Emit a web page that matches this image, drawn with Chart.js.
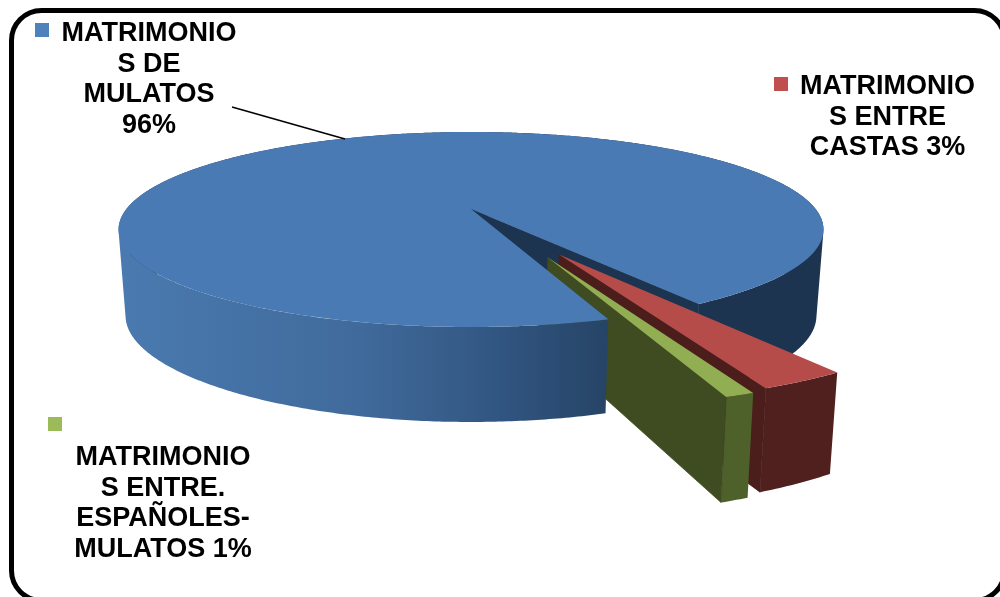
<!DOCTYPE html>
<html>
<head>
<meta charset="utf-8">
<title>Matrimonios</title>
<style>
  html, body { margin: 0; padding: 0; background: #fff; overflow: hidden; }
  canvas { display: block; }
</style>
<script src="https://cdn.jsdelivr.net/npm/chart.js@4"></script>
</head>
<body>
<canvas id="matrimonios" width="1000" height="597"></canvas>
<script>
const categories = ['MATRIMONIOS DE MULATOS', 'MATRIMONIOS ENTRE CASTAS', 'MATRIMONIOS ENTRE. ESPAÑOLES-MULATOS'];
const values = [96, 3, 1];
const labelLines = [
  ['MATRIMONIO', 'S DE', 'MULATOS', `${values[0]}%`],
  ['MATRIMONIO', 'S ENTRE', `CASTAS ${values[1]}%`],
  ['MATRIMONIO', 'S ENTRE.', 'ESPAÑOLES-', `MULATOS ${values[2]}%`]
];

const keyColors = ['#4f81bd', '#c0504d', '#9bbb59'];
const topColors = ['#4a7ab4', '#b54c49', '#91ae53'];
const wallColors = ['#1d3451', '#4f201e', '#4e612b'];
const faceColors = ['#1d3451', '#4b1d1b', '#3f4b20'];

// pulled-out slices: distance in radii, and a small turn off the slice's middle
const explode = [0, 0.5, 0.51];
const explodeTurn = [0, 0, -0.049];

// label placement: centre x, first baseline, legend key x and y
const labelSpots = [
  { x: 149, y: 41, keyX: 35, keyY: 23 },
  { x: 887.5, y: 94, keyX: 774, keyY: 77 },
  { x: 163, y: 465, keyX: 48, keyY: 417 }
];

// perspective of the upper and lower disc
const cam = {
  x0: 471, dx: 344.6, tilt: -0.2103, shrink: 0.02,
  topY: 209, topA: 49.24,
  botY: 294.3, botA: 26.4, botTilt: -0.24
};

function project(u, v, h) {
  const yTop = (cam.topY + cam.topA * v) / (1 + cam.tilt * v);
  const yBot = (cam.botY + cam.botA * v) / (1 + cam.botTilt * v);
  return {
    x: cam.x0 + cam.dx * u / (1 + cam.tilt * v) * (1 - cam.shrink * h),
    y: yTop + (yBot - yTop) * h
  };
}

function rimPoints(a0, a1, ox, oy, h) {
  const steps = Math.max(2, Math.ceil(Math.abs(a1 - a0) / 0.01));
  const pts = [];
  for (let i = 0; i <= steps; i++) {
    const a = a0 + (a1 - a0) * i / steps;
    pts.push(project(ox + Math.cos(a), oy + Math.sin(a), h));
  }
  return pts;
}

function fillPoly(ctx, pts, fill) {
  ctx.beginPath();
  pts.forEach((p, i) => (i ? ctx.lineTo(p.x, p.y) : ctx.moveTo(p.x, p.y)));
  ctx.closePath();
  ctx.fillStyle = fill;
  ctx.fill();
}

function signedArea(pts) {
  let sum = 0;
  pts.forEach((p, i) => {
    const q = pts[(i + 1) % pts.length];
    sum += p.x * q.y - q.x * p.y;
  });
  return sum;
}

// the wall folds over at the silhouette, so every strip is wound the same way
// and all of them go into one path: nonzero fill then gives a clean union
function wall(ctx, a0, a1, ox, oy, fill) {
  const upper = rimPoints(a0, a1, ox, oy, 0);
  const lower = rimPoints(a0, a1, ox, oy, 1);
  ctx.beginPath();
  for (let i = 1; i < upper.length; i++) {
    let quad = [upper[i - 1], upper[i], lower[i], lower[i - 1]];
    if (signedArea(quad) < 0) quad = quad.reverse();
    quad.forEach((p, j) => (j ? ctx.lineTo(p.x, p.y) : ctx.moveTo(p.x, p.y)));
    ctx.closePath();
  }
  ctx.fillStyle = fill;
  ctx.fill('nonzero');
}

function cutFace(ctx, a, ox, oy, fill) {
  fillPoly(ctx, [
    project(ox, oy, 0),
    project(ox + Math.cos(a), oy + Math.sin(a), 0),
    project(ox + Math.cos(a), oy + Math.sin(a), 1),
    project(ox, oy, 1)
  ], fill);
  // closes the seam against the neighbouring wall
  ctx.strokeStyle = fill;
  ctx.lineWidth = 0.8;
  ctx.stroke();
}

function topFace(ctx, a0, a1, ox, oy, fill) {
  fillPoly(ctx, [project(ox, oy, 0)].concat(rimPoints(a0, a1, ox, oy, 0)), fill);
}

const pie3d = {
  id: 'pie3d',
  beforeDraw(chart) {
    const ctx = chart.ctx;
    ctx.save();
    ctx.fillStyle = '#fff';
    ctx.fillRect(0, 0, chart.width, chart.height);
    ctx.beginPath();
    ctx.roundRect(11.5, 10.5, 993, 590, 30);
    ctx.lineWidth = 5;
    ctx.strokeStyle = '#000';
    ctx.stroke();
    ctx.restore();
  },
  // the library's flat arcs are replaced by their projected solids
  beforeDatasetDraw(chart) {
    const ctx = chart.ctx;
    const arcs = chart.getDatasetMeta(0).data;
    const big = arcs[0];
    ctx.save();

    // back of the big slice first, the pulled-out ones over it
    wall(ctx, Math.PI, big.endAngle, 0, 0, wallColors[0]);
    cutFace(ctx, big.endAngle, 0, 0, faceColors[0]);

    arcs.slice(1).forEach((arc, k) => {
      const i = k + 1;
      const mid = (arc.startAngle + arc.endAngle) / 2 + explodeTurn[i];
      const ox = explode[i] * Math.cos(mid);
      const oy = explode[i] * Math.sin(mid);
      wall(ctx, arc.startAngle, arc.endAngle, ox, oy, wallColors[i]);
      cutFace(ctx, arc.endAngle, ox, oy, faceColors[i]);
      topFace(ctx, arc.startAngle, arc.endAngle, ox, oy, topColors[i]);
    });

    // front wall and top of the big slice cover the rest
    const shade = ctx.createLinearGradient(117, 0, 607, 0);
    shade.addColorStop(0, '#4a7ab0');
    shade.addColorStop(0.5, '#406a9b');
    shade.addColorStop(0.8, '#30547f');
    shade.addColorStop(1, '#264466');
    wall(ctx, big.startAngle, Math.PI, 0, 0, shade);
    topFace(ctx, big.startAngle, big.endAngle, 0, 0, topColors[0]);

    ctx.restore();
    return false;
  },
  afterDraw(chart) {
    const ctx = chart.ctx;
    ctx.save();
    // leader line of the big slice
    ctx.beginPath();
    ctx.moveTo(232, 107);
    ctx.lineTo(345, 139);
    ctx.lineWidth = 1.5;
    ctx.strokeStyle = '#000';
    ctx.stroke();

    ctx.font = 'bold 27px "Liberation Sans", Arial, sans-serif';
    ctx.textAlign = 'center';
    ctx.textBaseline = 'alphabetic';
    labelLines.forEach((lines, i) => {
      const spot = labelSpots[i];
      ctx.fillStyle = keyColors[i];
      ctx.fillRect(spot.keyX, spot.keyY, 14, 14);
      ctx.fillStyle = '#000';
      lines.forEach((line, j) => ctx.fillText(line, spot.x, spot.y + j * 30.7));
    });
    ctx.restore();
  }
};

new Chart(document.getElementById('matrimonios'), {
  type: 'pie',
  data: {
    labels: categories,
    datasets: [{ data: values, backgroundColor: topColors, borderWidth: 0 }]
  },
  options: {
    responsive: false,
    animation: false,
    rotation: 161.4,
    plugins: { legend: { display: false }, tooltip: { enabled: false } }
  },
  plugins: [pie3d]
});
</script>
</body>
</html>
